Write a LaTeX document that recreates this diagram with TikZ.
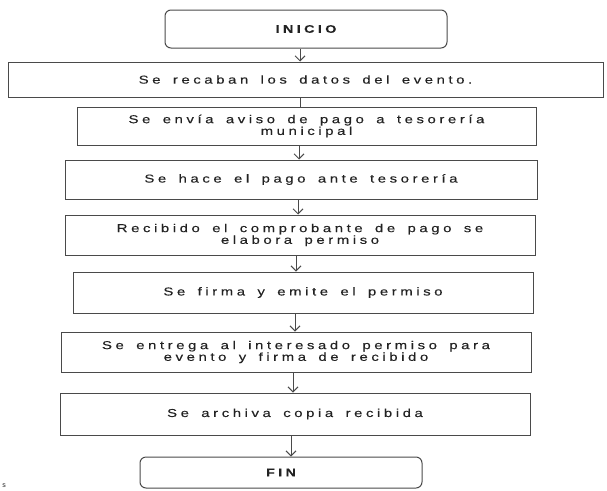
\documentclass[tikz,border=0pt]{standalone}
\usepackage{fontspec}
\usepackage{tikz}
\usetikzlibrary{arrows.meta,calc,positioning}
\usepackage{xcolor}
\setmainfont{Liberation Sans}
\newfontfamily\espaciada[LetterSpace=31,WordSpace=1.6,FakeStretch=1.3,FakeBold=0.2]{Liberation Sans}
\definecolor{tinta}{HTML}{222222}
\definecolor{trazo}{HTML}{4A4A4A}
\tikzset{
  paso/.style={draw=trazo,line width=1pt,minimum height=38pt,align=center,
    font=\espaciada\fontsize{11.5}{10.5}\selectfont,text=tinta,inner sep=2pt},
  extremo/.style={paso,rounded corners=6pt,font=\espaciada\bfseries\fontsize{11}{11}\selectfont},
  flecha/.style={draw=trazo,line width=1pt,-{Straight Barb[length=5pt,width=10pt]}},
  linea/.style={draw=trazo,line width=1pt}
}

\begin{document}
\begin{tikzpicture}[x=1pt,y=-1pt]
  \useasboundingbox (0,0) rectangle (607,490);
  \node[extremo,minimum width=282pt] (inicio) at (306,29) {INICIO};
  \node[paso,minimum width=595pt,minimum height=35pt] (recaban) at (305.5,79.5) {Se recaban los datos del evento.};
  \node[paso,minimum width=459pt] (aviso) at (306.5,126) {Se envía aviso de pago a tesorería\\municipal};
  \node[paso,minimum width=472pt,minimum height=39pt] (pago) at (301,179.5) {Se hace el pago ante tesorería};
  \node[paso,minimum width=470pt,minimum height=40pt] (elabora) at (300,235) {Recibido el comprobante de pago se\\elabora permiso};
  \node[paso,minimum width=460pt,minimum height=41pt] (firma) at (303,292.5) {Se firma y emite el permiso};
  \node[paso,minimum width=470pt,minimum height=40pt] (entrega) at (296,352) {Se entrega al interesado permiso para\\evento y firma de recibido};
  \node[paso,minimum width=470pt,minimum height=42pt] (archiva) at (295,414) {Se archiva copia recibida};
  \node[extremo,minimum width=282pt,minimum height=31pt] (fin) at (281,472.5) {FIN};
  \node[font=\fontsize{7}{7}\selectfont,text=tinta] (resto) at (4,486) {s};
  % conectores
  \draw[flecha] ([xshift=-6pt]inicio.south) -- ([xshift=-6pt]inicio.south |- recaban.north);
  \draw[linea] ([xshift=-5.5pt]recaban.south) -- ([xshift=-5.5pt]recaban.south |- aviso.north);
  \draw[flecha] ([xshift=-7.5pt]aviso.south) -- ([xshift=-7.5pt]aviso.south |- pago.north);
  \draw[flecha] ([xshift=-3pt]pago.south) -- ([xshift=-3pt]pago.south |- elabora.north);
  \draw[flecha] ([xshift=-4pt]elabora.south) -- ([xshift=-4pt]elabora.south |- firma.north);
  \draw[flecha] ([xshift=-8pt]firma.south) -- ([xshift=-8pt]firma.south |- entrega.north);
  \draw[flecha] ([xshift=-3pt]entrega.south) -- ([xshift=-3pt]entrega.south |- archiva.north);
  \draw[flecha] ([xshift=-4pt]archiva.south) -- ([xshift=-4pt]archiva.south |- fin.north);
\end{tikzpicture}
\end{document}
